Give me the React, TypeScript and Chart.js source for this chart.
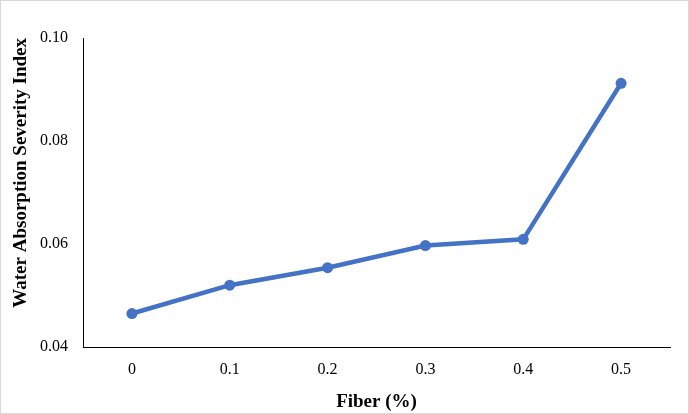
import { useEffect, useRef } from "react";
import { Chart, registerables } from "chart.js";

Chart.register(...registerables);

const fiberLabels = ["0", "0.1", "0.2", "0.3", "0.4", "0.5"];
const severityIndex = [0.0465, 0.052, 0.0554, 0.0597, 0.0609, 0.0912];
const yTicks = [0.04, 0.06, 0.08, 0.1];

const FONT = "'Liberation Serif', 'Times New Roman', serif";

const App = () => {
    const chartRef = useRef<HTMLCanvasElement | null>(null);
    const chartInstanceRef = useRef<Chart | null>(null);

    useEffect(() => {
        document.body.style.margin = "0";
        if (!chartRef.current) return;
        const ctx = chartRef.current.getContext("2d");
        if (!ctx) return;
        if (chartInstanceRef.current) chartInstanceRef.current.destroy();

        chartInstanceRef.current = new Chart(ctx, {
            type: "line",
            data: {
                labels: fiberLabels,
                datasets: [
                    {
                        label: "Water Absorption Severity Index",
                        data: severityIndex,
                        borderColor: "#4472C4",
                        backgroundColor: "#4472C4",
                        borderWidth: 4.5,
                        pointRadius: 5.5,
                        pointBackgroundColor: "#4472C4",
                        pointBorderWidth: 0,
                        tension: 0,
                    },
                ],
            },
            options: {
                responsive: false,
                animation: false,
                layout: { padding: { left: 0, right: 18, top: 37, bottom: 0 } },
                plugins: {
                    legend: { display: false },
                    tooltip: { enabled: false },
                },
                scales: {
                    x: {
                        offset: true,
                        grid: { display: false, drawTicks: false },
                        border: { display: true, color: "#000000", width: 1 },
                        ticks: {
                            color: "#000000",
                            padding: 13,
                            font: { family: FONT, size: 16 },
                        },
                        title: {
                            display: true,
                            text: "Fiber (%)",
                            color: "#000000",
                            font: { family: FONT, size: 19, weight: "bold" as const },
                            padding: { top: 1, bottom: 0 },
                        },
                        afterFit: (scale: any) => {
                            scale.height = 66;
                        },
                    },
                    y: {
                        min: 0.04,
                        max: 0.1,
                        grid: { display: false, drawTicks: false },
                        border: { display: true, color: "#000000", width: 1 },
                        afterBuildTicks: (scale: any) => {
                            scale.ticks = yTicks.map((v) => ({ value: v }));
                        },
                        ticks: {
                            color: "#000000",
                            padding: 15,
                            font: { family: FONT, size: 16 },
                            callback: (value: any) => Number(value).toFixed(2),
                        },
                        title: {
                            display: true,
                            align: "end" as const,
                            text: "Water Absorption Severity Index",
                            color: "#000000",
                            font: { family: FONT, size: 19, weight: "bold" as const },
                            padding: { top: 9, bottom: 0 },
                        },
                        afterFit: (scale: any) => {
                            scale.width = 82;
                        },
                    },
                },
            },
        });

        return () => {
            if (chartInstanceRef.current) {
                chartInstanceRef.current.destroy();
                chartInstanceRef.current = null;
            }
        };
    }, []);

    return (
        <div
            style={{
                width: 689,
                height: 414,
                boxSizing: "border-box",
                border: "1px solid #d9d9d9",
                background: "#ffffff",
            }}
        >
            <canvas ref={chartRef} width={687} height={412} style={{ display: "block" }} />
        </div>
    );
};

export default App;
